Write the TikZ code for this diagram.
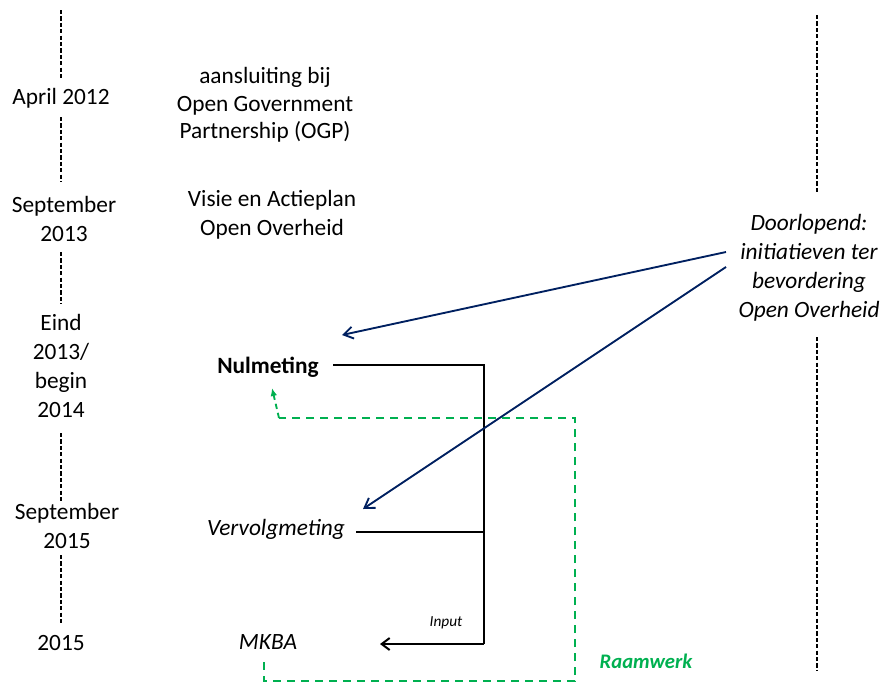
\documentclass[tikz,border=0pt]{standalone}
\usepackage{fontspec}
\setmainfont{Carlito}
\usetikzlibrary{arrows.meta}
\definecolor{navy}{HTML}{002060}
\definecolor{grn}{HTML}{00B050}
\begin{document}
\begin{tikzpicture}[x=0.75pt,y=-0.75pt,
  lbl/.style={align=center,font=\fontsize{17.5}{21.75}\selectfont,inner sep=0pt},
  tl/.style={black,line width=1pt,dash pattern=on 3.2pt off 1.6pt},
  conn/.style={black,line width=1.5pt},
  blue/.style={navy,line width=1.4pt,-{Straight Barb[length=7pt,width=9pt,line width=1.4pt]}},
  green/.style={grn,line width=1.4pt,dash pattern=on 6pt off 4.5pt}]
\useasboundingbox (0,0) rectangle (885,683);
% left timeline
\node[lbl] (d1) at (61,98) {April 2012};
\node[lbl] (d2) at (64,219) {September\\2013};
\node[lbl] (d3) at (61,366) {Eind\\2013/\\begin\\2014};
\node[lbl] (d4) at (67,526) {September\\2015};
\node[lbl] (d5) at (61,643) {2015};
\coordinate (t0) at (61,10);
\coordinate (t1a) at (61,78);  \coordinate (t1b) at (61,117);
\coordinate (t2a) at (61,182); \coordinate (t2b) at (61,252);
\coordinate (t3a) at (61,304); \coordinate (t3b) at (61,433);
\coordinate (t4a) at (61,503); \coordinate (t4b) at (61,555);
\coordinate (t5a) at (61,623);
\draw[tl] (t0) -- (t1a);
\draw[tl] (t1b) -- (t2a);
\draw[tl] (t2b) -- (t3a);
\draw[tl] (t3b) -- (t4a);
\draw[tl] (t4b) -- (t5a);
% middle texts
\node[lbl,font=\fontsize{17.5}{20.5}\selectfont] (ogp) at (265,105) {aansluiting bij\\Open Government\\Partnership (OGP)};
\node[lbl] (visie) at (272,215) {Visie en Actieplan\\Open Overheid};
\node[lbl,font=\fontsize{17.5}{21.75}\selectfont\bfseries] (nul) at (268,367) {Nulmeting};
\node[lbl,font=\fontsize{17.5}{21.75}\selectfont\itshape] (verv) at (276,529) {Vervolgmeting};
\node[lbl,font=\fontsize{17.5}{21.75}\selectfont\itshape] (mkba) at (268,642) {MKBA};
\node[lbl,font=\fontsize{11.5}{13}\selectfont\itshape] (input) at (446,623) {Input};
% right
\node[lbl,font=\fontsize{17.5}{21.75}\selectfont\itshape] (door) at (809,268) {Doorlopend:\\initiatieven ter\\bevordering\\Open Overheid};
\coordinate (r0) at (817,15); \coordinate (r1) at (817,192);
\coordinate (r2) at (817,337); \coordinate (r3) at (817,670);
\draw[tl] (r0) -- (r1);
\draw[tl] (r2) -- (r3);
% black connectors
\coordinate (n1) at (333,365);
\coordinate (j1) at (484,365);
\coordinate (v1) at (356,532);
\coordinate (j2) at (484,532);
\coordinate (j3) at (484,644);
\coordinate (m1) at (380,644);
\draw[conn] (n1) -- (j1) -- (j3);
\draw[conn] (v1) -- (j2);
\draw[conn,-{Straight Barb[length=6pt,width=9pt,line width=1.5pt]}] (j3) -- (m1);
% blue arrows
\coordinate (b1s) at (726,252);
\coordinate (b1e) at (342,335);
\coordinate (b2s) at (726,267);
\coordinate (b2e) at (363,509);
\draw[blue] (b1s) -- (b1e);
\draw[blue] (b2s) -- (b2e);
% green framework
\coordinate (g0) at (264,662);
\coordinate (g1) at (264,681);
\coordinate (g2) at (575,681);
\coordinate (g3) at (575,418);
\coordinate (g4) at (279,418);
\coordinate (g5) at (272,388);
\draw[green] (g0) -- (g1) -- (g2) -- (g3) -- (g4);
\draw[green,dash pattern=on 4pt off 3pt,-{Latex[length=6pt,width=5pt]}] (g4) -- (g5);
\node[lbl,font=\fontsize{15.5}{18}\selectfont\bfseries\itshape,text=grn] (raam) at (646,661) {Raamwerk};
\end{tikzpicture}
\end{document}
